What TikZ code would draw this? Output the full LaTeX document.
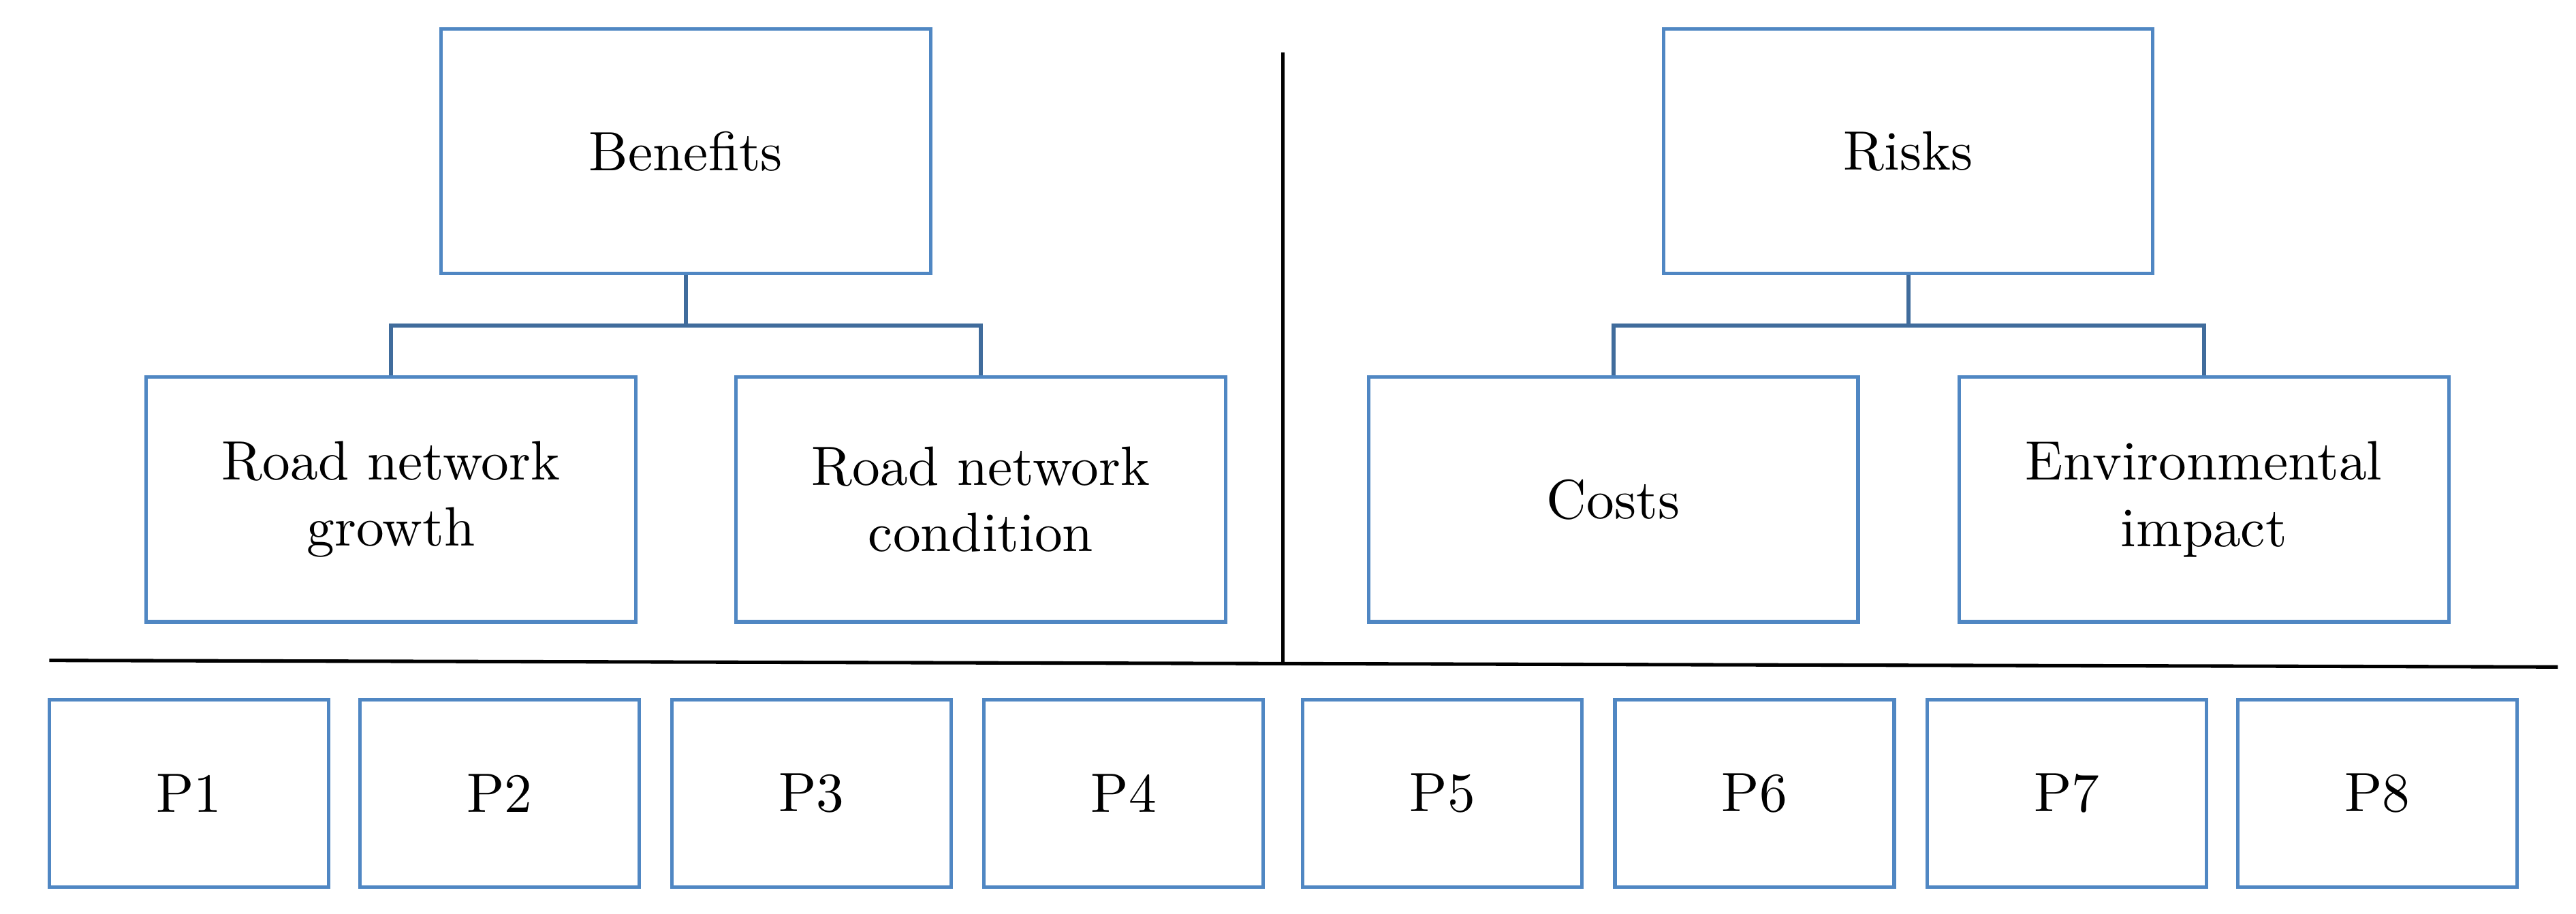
\documentclass[tikz,border=0pt]{standalone}
\usepackage{tikz}
\definecolor{boxblue}{RGB}{80,135,195}
\begin{document}
\begin{tikzpicture}[x=0.1mm,y=-0.1mm,
    crit/.style={shape=rectangle,draw=boxblue,line width=0.6pt,minimum width=29.8mm,minimum height=14.9mm,align=center,font=\fontsize{9.6}{11.5}\selectfont},
    alt/.style={shape=rectangle,draw=boxblue,line width=0.6pt,minimum width=17mm,minimum height=11.4mm,font=\fontsize{9.6}{11.5}\selectfont},
    link/.style={draw=boxblue!80!black,line width=0.7pt}]
    \useasboundingbox (0,0) rectangle (1568,556);
    % Define top level criteria
    \node[crit] (benefits) at (417.5,92) {Benefits};
    \node[crit] (risks) at (1161.5,92) {Risks};

    % Draw sub-criteria
    \node[crit] (growth) at (238,304) {Road network\\growth};
    \node[crit] (condition) at (597,304) {Road network\\condition};
    \node[crit] (costs) at (982,304) {Costs};
    \node[crit] (env) at (1341.5,304) {Environmental\\impact};

    % Draw tree links
    \coordinate (bj) at (417.5,198);
    \coordinate (rj) at (1161.5,198);
    \draw[link] (benefits.south) -- (bj);
    \draw[link] (growth.north) |- (bj) -| (condition.north);
    \draw[link] (risks.south) -- (rj);
    \draw[link] (costs.north) |- (rj) -| (env.north);

    % Draw separator lines
    \coordinate (vtop) at (781,32);
    \coordinate (vbot) at (781,404);
    \coordinate (hl) at (30,402);
    \coordinate (hr) at (1557,406);
    \draw[line width=0.6pt] (vtop) -- (vbot);
    \draw[line width=0.6pt] (hl) -- (hr);

    % Draw alternatives
    \foreach \i/\x in {1/115,2/304,3/494,4/684,5/878,6/1068,7/1258,8/1447} {
        \node[alt] (p\i) at (\x,483) {P\i};
    }
\end{tikzpicture}
\end{document}
